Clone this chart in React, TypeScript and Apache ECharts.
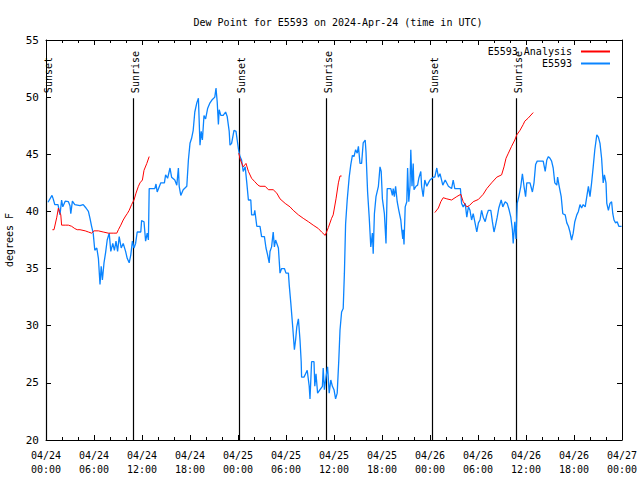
import React, { useEffect, useRef } from "react";
import * as echarts from "echarts";

const FONT = '"DejaVu Sans Mono", "Liberation Mono", monospace';

const titleText = "Dew Point for E5593 on 2024-Apr-24 (time in UTC)";
const yAxisName = "degrees F";
const analysisName = "E5593 Analysis";
const obsName = "E5593";

const xTickLabels = [
  "04/24\n00:00", "04/24\n06:00", "04/24\n12:00", "04/24\n18:00",
  "04/25\n00:00", "04/25\n06:00", "04/25\n12:00", "04/25\n18:00",
  "04/26\n00:00", "04/26\n06:00", "04/26\n12:00", "04/26\n18:00",
  "04/27\n00:00",
];

// Sunrise / sunset markers (hours since 04/24 00:00 UTC)
const sunHours = [0.05, 10.9, 24.1, 34.95, 48.2, 58.8];
const sunLabels = ["Sunset", "Sunrise", "Sunset", "Sunrise", "Sunset", "Sunrise"];

// Observations (hours since 04/24 00:00 UTC, degrees F)
const obsHours = [
  0.25, 0.75, 0.9, 1.1, 1.5, 1.75, 1.95, 2.1, 2.4, 2.8, 3.0, 3.1, 3.3, 3.6, 4.25, 4.65, 5.0, 5.3, 5.5, 5.7,
  5.9, 6.1, 6.35, 6.55, 6.75, 6.9, 7.05, 7.25, 7.45, 7.65, 7.9, 8.1, 8.35, 8.55, 8.75, 8.95, 9.15, 9.4, 9.65, 9.95,
  10.15, 10.4, 10.6, 10.8, 11.0, 11.2, 11.4, 11.85, 11.95, 12.25, 12.45, 12.65, 12.8, 12.9, 13.6, 13.75, 13.9, 14.35, 14.8, 14.95,
  15.2, 15.5, 15.7, 16.1, 16.35, 16.55, 16.65, 16.85, 17.15, 17.6, 17.8, 18.0, 18.2, 18.4, 18.6, 18.85, 19.05, 19.1, 19.25, 19.4,
  19.55, 19.75, 19.95, 20.2, 20.5, 20.8, 21.1, 21.25, 21.4, 21.55, 21.65, 21.85, 22.15, 22.45, 22.65, 22.9, 23.0, 23.2, 23.5, 23.75,
  23.9, 24.05, 24.15, 24.25, 24.45, 24.65, 24.9, 25.1, 25.3, 25.6, 25.7, 26.0, 26.1, 26.35, 26.75, 26.95, 27.3, 27.5, 27.7, 27.9,
  28.0, 28.2, 28.4, 28.55, 28.7, 29.05, 29.25, 29.45, 29.8, 30.0, 30.3, 30.4, 30.6, 30.85, 31.05, 31.2, 31.35, 31.55, 31.75, 31.9,
  31.95, 32.25, 32.45, 32.65, 32.9, 33.0, 33.2, 33.5, 33.6, 33.75, 33.95, 34.25, 34.55, 34.65, 34.8, 35.0, 35.2, 35.4, 35.6, 35.8,
  36.0, 36.2, 36.4, 36.6, 36.75, 36.95, 37.15, 37.3, 37.45, 37.65, 37.9, 38.1, 38.3, 38.5, 38.7, 38.9, 39.05, 39.25, 39.45, 39.65,
  39.9, 40.0, 40.2, 40.4, 40.6, 40.8, 40.9, 41.05, 41.25, 41.55, 41.75, 41.9, 42.05, 42.3, 42.5, 42.65, 43.1, 43.3, 43.4, 43.55,
  43.7, 43.9, 44.1, 44.35, 44.45, 44.6, 44.65, 44.75, 44.9, 45.1, 45.2, 45.35, 45.5, 45.6, 45.75, 45.9, 46.0, 46.25, 46.45, 46.6,
  46.85, 46.95, 47.15, 47.35, 47.6, 47.8, 48.0, 48.4, 48.6, 48.85, 49.05, 49.25, 49.6, 49.9, 50.3, 50.7, 50.9, 51.1, 51.8, 51.95,
  52.15, 52.4, 52.6, 52.8, 53.0, 53.2, 53.4, 53.6, 53.85, 54.05, 54.25, 54.45, 54.65, 54.9, 55.1, 55.3, 55.6, 55.8, 56.0, 56.2,
  56.4, 56.6, 56.9, 57.1, 57.4, 57.65, 57.9, 58.1, 58.3, 58.4, 58.6, 58.75, 58.9, 59.1, 59.35, 59.55, 59.75, 59.95, 60.1, 60.5,
  60.8, 61.0, 61.2, 61.4, 62.15, 62.4, 62.6, 62.8, 63.0, 63.2, 63.4, 63.6, 63.85, 63.95, 64.15, 64.4, 64.6, 64.9, 65.1, 65.3,
  65.5, 65.7, 65.9, 66.1, 66.35, 66.55, 66.75, 66.95, 67.15, 67.4, 67.6, 67.8, 68.0, 68.2, 68.4, 68.6, 68.85, 69.05, 69.25, 69.45,
  69.6, 69.65, 69.8, 70.0, 70.1, 70.3, 70.5, 70.7, 70.85, 71.0, 71.2, 71.4, 71.6, 71.95,
];
const obsValues = [
  40.8, 41.4, 41.1, 40.6, 40.6, 39.7, 41.0, 40.4, 40.9, 40.85, 40.5, 39.8, 40.9, 40.6, 40.5, 40.6, 40.3, 40.0, 39.4, 38.7,
  38.1, 36.6, 36.8, 35.9, 33.6, 35.2, 34.0, 35.5, 36.4, 37.5, 38.1, 36.5, 37.2, 36.6, 37.4, 36.5, 37.8, 36.8, 37.2, 36.5,
  35.9, 35.5, 36.2, 37.4, 36.8, 37.2, 38.2, 38.2, 39.2, 39.1, 37.4, 38.1, 37.5, 42.0, 42.0, 42.4, 41.7, 42.5, 42.5, 43.2,
  42.9, 43.8, 43.0, 42.75, 42.3, 43.8, 42.2, 41.4, 41.9, 42.2, 44.5, 45.96, 46.4, 47.1, 48.7, 49.5, 49.9, 48.9, 45.8, 47.0,
  46.25, 48.4, 48.1, 49.0, 49.5, 49.8, 50.0, 50.8, 49.6, 47.6, 48.9, 48.4, 48.4, 48.7, 48.3, 47.0, 45.8, 45.96, 47.1, 47.0,
  46.25, 45.5, 45.1, 44.8, 44.5, 43.5, 43.9, 42.5, 41.0, 41.0, 39.7, 39.7, 40.1, 38.7, 38.7, 37.8, 37.8, 36.8, 36.2, 35.5,
  36.5, 36.9, 38.2, 36.9, 37.5, 36.8, 34.6, 35.0, 35.0, 34.6, 34.6, 33.6, 32.0, 29.8, 27.9, 28.75, 29.9, 30.6, 28.75, 26.85,
  25.5, 25.5, 25.8, 26.1, 24.7, 23.6, 26.85, 26.85, 24.7, 25.8, 24.1, 24.4, 24.7, 26.3, 24.4, 25.5, 26.4, 24.1, 25.25, 24.7,
  24.4, 23.6, 24.1, 27.0, 29.6, 31.2, 31.5, 34.6, 38.9, 41.0, 43.0, 44.1, 44.9, 44.8, 45.4, 45.1, 45.7, 44.2, 44.2, 46.0,
  46.25, 45.2, 41.7, 39.5, 36.9, 38.1, 36.3, 39.8, 41.3, 42.2, 43.9, 43.5, 41.1, 39.8, 37.2, 42.0, 42.0, 41.4, 42.0, 41.3,
  42.2, 40.85, 40.1, 39.25, 38.5, 37.6, 38.4, 37.1, 40.4, 40.85, 43.8, 40.85, 42.2, 45.4, 42.2, 44.2, 41.9, 42.2, 42.3, 42.9,
  43.5, 42.2, 41.3, 42.75, 42.2, 42.5, 42.75, 43.0, 43.0, 43.8, 43.0, 43.3, 42.3, 42.75, 42.2, 42.0, 42.75, 42.0, 42.0, 40.7,
  40.4, 40.7, 39.5, 40.4, 40.1, 39.25, 39.8, 39.1, 38.2, 39.0, 39.25, 40.1, 39.5, 39.1, 39.7, 40.1, 40.1, 39.1, 38.2, 38.8,
  39.5, 40.3, 41.0, 40.4, 40.85, 40.7, 40.1, 39.5, 38.4, 37.2, 39.1, 37.6, 40.7, 41.3, 42.2, 43.3, 42.2, 41.3, 42.5, 42.5,
  41.7, 42.5, 44.1, 44.4, 44.4, 43.5, 44.5, 44.8, 44.65, 44.4, 43.8, 42.5, 42.3, 43.0, 42.2, 41.3, 39.8, 39.7, 39.0, 38.7,
  38.2, 37.5, 38.1, 39.1, 39.7, 40.0, 40.6, 40.3, 40.6, 40.4, 41.3, 42.2, 41.3, 42.5, 43.9, 45.4, 46.7, 46.5, 45.96, 44.65,
  43.0, 42.5, 43.2, 42.5, 40.7, 40.1, 40.7, 40.85, 39.8, 39.25, 39.0, 39.1, 38.7, 38.7,
];

// Analysis, three separate runs
const analysis1Hours = [
  0.8, 1.0, 1.35, 1.55, 1.65, 1.85, 1.95, 2.4, 2.8, 3.2, 3.6, 3.9, 4.25, 4.9, 5.3, 5.7, 6.0, 6.55, 7.15, 7.8,
  8.4, 8.85, 9.05, 9.35, 9.65, 9.95, 10.15, 10.4, 10.7, 11.0, 11.25, 11.55, 11.75, 12.05, 12.25, 12.6, 12.9,
];
const analysis1Values = [
  38.4, 38.4, 39.5, 40.3, 40.0, 39.7, 38.8, 38.8, 38.8, 38.7, 38.5, 38.4, 38.4, 38.3, 38.2, 38.1, 38.3, 38.3, 38.2, 38.1,
  38.1, 38.1, 38.4, 38.8, 39.25, 39.6, 39.8, 40.1, 40.6, 41.0, 41.6, 42.2, 42.5, 42.75, 43.6, 44.2, 44.8,
];
const analysis2Hours = [
  24.1, 24.25, 24.65, 25.0, 25.3, 25.7, 26.1, 26.5, 26.75, 27.4, 27.8, 28.4, 28.85, 29.25, 29.9, 30.5, 30.9, 31.55, 32.15, 32.8,
  33.4, 34.05, 34.45, 34.9, 35.3, 35.7, 35.9, 36.25, 36.55, 36.75, 36.95,
];
const analysis2Values = [
  45.1, 44.6, 43.9, 44.2, 43.5, 42.9, 42.6, 42.3, 42.2, 42.2, 41.9, 41.9, 41.6, 41.1, 40.7, 40.4, 40.1, 39.7, 39.4, 39.1,
  38.8, 38.5, 38.2, 37.9, 38.6, 39.4, 39.7, 41.1, 42.5, 43.1, 43.1,
];
const analysis3Hours = [
  48.6, 49.05, 49.35, 49.65, 50.1, 50.7, 51.35, 51.85, 52.15, 52.6, 52.9, 53.4, 54.05, 54.65, 55.1, 55.7, 56.35, 56.95, 57.25, 57.5,
  57.8, 58.2, 58.6, 58.85, 59.25, 59.65, 59.85, 60.25, 60.9,
];
const analysis3Values = [
  39.9, 40.3, 40.85, 41.2, 41.1, 41.0, 41.3, 41.5, 40.85, 40.4, 40.5, 40.85, 41.05, 41.5, 42.0, 42.5, 43.0, 43.2, 43.9, 44.65,
  45.1, 45.7, 46.25, 46.7, 47.1, 47.6, 47.9, 48.15, 48.65,
];

const pairs = (hs: number[], vs: number[]) => hs.map((h, i) => [h, vs[i]]);

export default function App() {
  const ref = useRef<HTMLDivElement>(null);
  useEffect(() => {
    const chart = echarts.init(ref.current!, null, { renderer: "svg" });
    const analysisData: any[] = [
      ...pairs(analysis1Hours, analysis1Values),
      [null, null],
      ...pairs(analysis2Hours, analysis2Values),
      [null, null],
      ...pairs(analysis3Hours, analysis3Values),
    ];
    const xCommon = {
      type: "value",
      min: 0,
      max: 72,
      interval: 6,
      splitLine: { show: false },
      axisLine: { show: true, onZero: false, lineStyle: { color: "#000", width: 1 } },
      axisTick: { show: true, inside: true, length: 5, lineStyle: { color: "#000" } },
      minorTick: { show: true, splitNumber: 3, length: 3, lineStyle: { color: "#000" } },
    };
    const yCommon = {
      type: "value",
      min: 20,
      max: 55,
      interval: 5,
      splitLine: { show: false },
      axisLine: { show: true, onZero: false, lineStyle: { color: "#000", width: 1 } },
      axisTick: { show: true, inside: true, length: 5, lineStyle: { color: "#000" } },
    };
    chart.setOption({
      animation: false,
      backgroundColor: "#fff",
      textStyle: { fontFamily: FONT },
      title: {
        text: titleText,
        left: 333,
        top: 12,
        textAlign: "center",
        textStyle: { fontFamily: FONT, fontSize: 10, fontWeight: "normal", color: "#000" },
      },
      legend: {
        data: [analysisName, obsName],
        orient: "vertical",
        right: 25,
        top: 41,
        align: "right",
        itemWidth: 29,
        itemHeight: 2,
        itemGap: 1,
        icon: "rect",
        textStyle: { fontFamily: FONT, fontSize: 10, color: "#000", lineHeight: 11, padding: [0, 4, 0, 0] },
      },
      grid: { left: 46, right: 18, top: 40, bottom: 40, containLabel: false, outerBoundsMode: "none" },
      xAxis: [
        {
          ...xCommon,
          position: "bottom",
          axisLabel: {
            show: true,
            margin: 8,
            fontFamily: FONT,
            fontSize: 10,
            lineHeight: 14,
            color: "#000",
            showMinLabel: true,
            showMaxLabel: true,
            hideOverlap: false,
            formatter: (v: number) => xTickLabels[Math.round(v / 6)] ?? "",
          },
        },
        { ...xCommon, position: "top", axisLabel: { show: false } },
      ],
      yAxis: [
        {
          ...yCommon,
          position: "left",
          name: yAxisName,
          nameLocation: "middle",
          nameRotate: 90,
          nameGap: 32,
          nameTextStyle: { fontFamily: FONT, fontSize: 10, color: "#000" },
          axisLabel: { show: true, margin: 7, fontFamily: FONT, fontSize: 11, color: "#000" },
        },
        { ...yCommon, position: "right", axisLabel: { show: false } },
      ],
      series: [
        {
          type: "custom",
          name: "sun",
          xAxisIndex: 0,
          yAxisIndex: 0,
          silent: true,
          data: sunHours.map((h) => [h, 50]),
          renderItem: (params: any, api: any) => {
            const h = api.value(0);
            const top = api.coord([h, 50]);
            const bot = api.coord([h, 20]);
            const x = Math.round(top[0]) + 0.5;
            return {
              type: "group",
              children: [
                {
                  type: "line",
                  shape: { x1: x, y1: top[1] + 1, x2: x, y2: bot[1] },
                  style: { stroke: "#000", lineWidth: 1.2 },
                },
                {
                  type: "text",
                  x: x + 1.5,
                  y: top[1] - 4,
                  rotation: Math.PI / 2,
                  style: {
                    text: sunLabels[params.dataIndex],
                    textAlign: "left",
                    textVerticalAlign: "middle",
                    fill: "#000",
                    font: `10px ${FONT}`,
                  },
                },
              ],
            };
          },
        },
        {
          type: "line",
          name: analysisName,
          data: analysisData,
          showSymbol: false,
          connectNulls: false,
          lineStyle: { color: "#ff0000", width: 1 },
          itemStyle: { color: "#ff0000" },
          z: 3,
        },
        {
          type: "line",
          name: obsName,
          data: pairs(obsHours, obsValues),
          showSymbol: false,
          lineStyle: { color: "#0a84ff", width: 1.3 },
          itemStyle: { color: "#0a84ff" },
          z: 2,
        },
      ],
    });
    return () => chart.dispose();
  }, []);
  return (
    <div
      ref={ref}
      style={{ position: "fixed", left: 0, top: 0, width: 640, height: 480, background: "#fff" }}
    />
  );
}
